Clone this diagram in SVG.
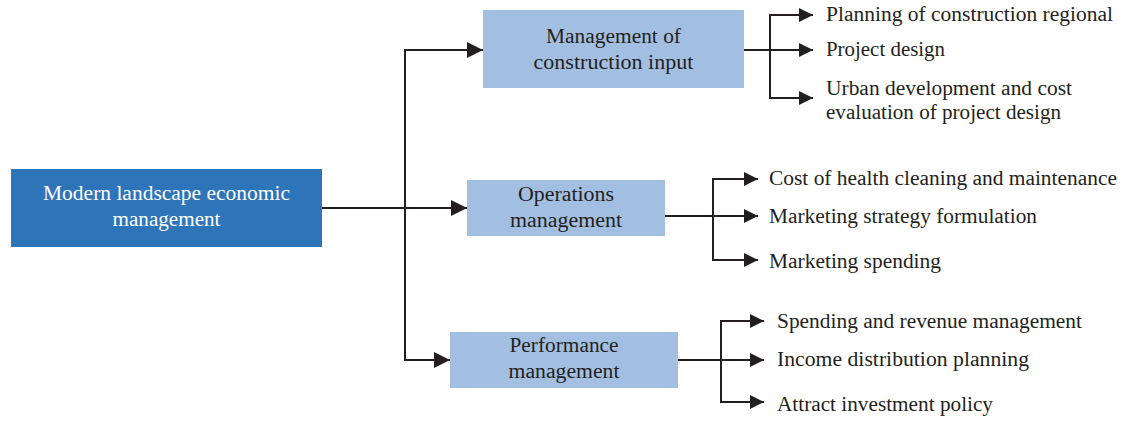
<svg xmlns="http://www.w3.org/2000/svg" width="1124" height="421" viewBox="0 0 1124 421">
  <style>
    text { font-family: "Liberation Serif", "DejaVu Serif", serif; font-size: 20px; fill: #231f20; }
    .root { fill: #2e74b8; }
    .sub { fill: #a2bfe2; }
    .light { fill: #ffffff; }
    .mid { text-anchor: middle; }
    .wire { fill: none; stroke: #231f20; stroke-width: 2; }
  </style>
  <defs>
    <marker id="headL" markerUnits="userSpaceOnUse" markerWidth="17" markerHeight="16" refX="16" refY="8" orient="auto">
      <path d="M0,0 L16,8 L0,16 z" fill="#231f20"/>
    </marker>
    <marker id="headS" markerUnits="userSpaceOnUse" markerWidth="15" markerHeight="14" refX="14" refY="7" orient="auto">
      <path d="M0,0 L14,7 L0,14 z" fill="#231f20"/>
    </marker>
  </defs>

  <!-- connectors -->
  <g id="connectors">
    <path class="wire" d="M322,208 H467" marker-end="url(#headL)"/>
    <path class="wire" d="M405,208 V50 H483" marker-end="url(#headL)"/>
    <path class="wire" d="M405,207 V360 H450" marker-end="url(#headL)"/>

    <path class="wire" d="M744,50 H813" marker-end="url(#headS)"/>
    <path class="wire" d="M770,50 V15 H813" marker-end="url(#headS)"/>
    <path class="wire" d="M770,49 V98 H813" marker-end="url(#headS)"/>

    <path class="wire" d="M665,216 H758" marker-end="url(#headS)"/>
    <path class="wire" d="M713,216 V179 H758" marker-end="url(#headS)"/>
    <path class="wire" d="M713,215 V260 H758" marker-end="url(#headS)"/>

    <path class="wire" d="M678,360 H764" marker-end="url(#headS)"/>
    <path class="wire" d="M721,360 V321 H764" marker-end="url(#headS)"/>
    <path class="wire" d="M721,359 V402 H764" marker-end="url(#headS)"/>
  </g>

  <!-- root node -->
  <g id="node-root">
    <rect class="root" x="11" y="169" width="311" height="78"/>
    <text class="light mid" x="166.5" y="200" textLength="247" lengthAdjust="spacingAndGlyphs">Modern landscape economic</text>
    <text class="light mid" x="166.5" y="226" textLength="108" lengthAdjust="spacingAndGlyphs">management</text>
  </g>

  <!-- second level -->
  <g id="node-construction">
    <rect class="sub" x="483" y="10" width="261" height="78"/>
    <text class="mid" x="613.5" y="43" textLength="135" lengthAdjust="spacingAndGlyphs">Management of</text>
    <text class="mid" x="613.5" y="69" textLength="160" lengthAdjust="spacingAndGlyphs">construction input</text>
  </g>
  <g id="node-operations">
    <rect class="sub" x="467" y="180" width="198" height="56"/>
    <text class="mid" x="566" y="201" textLength="96" lengthAdjust="spacingAndGlyphs">Operations</text>
    <text class="mid" x="566" y="227" textLength="112" lengthAdjust="spacingAndGlyphs">management</text>
  </g>
  <g id="node-performance">
    <rect class="sub" x="450" y="332" width="228" height="56"/>
    <text class="mid" x="564" y="352" textLength="109" lengthAdjust="spacingAndGlyphs">Performance</text>
    <text class="mid" x="564" y="378" textLength="111" lengthAdjust="spacingAndGlyphs">management</text>
  </g>

  <!-- leaves: construction input -->
  <g id="leaf-planning">
    <text x="826" y="21" textLength="287" lengthAdjust="spacingAndGlyphs">Planning of construction regional</text>
  </g>
  <g id="leaf-project-design">
    <text x="826" y="56" textLength="119" lengthAdjust="spacingAndGlyphs">Project design</text>
  </g>
  <g id="leaf-urban">
    <text x="826" y="95" textLength="246" lengthAdjust="spacingAndGlyphs">Urban development and cost</text>
    <text x="826" y="119" textLength="235" lengthAdjust="spacingAndGlyphs">evaluation of project design</text>
  </g>

  <!-- leaves: operations -->
  <g id="leaf-cleaning">
    <text x="769" y="185" textLength="348" lengthAdjust="spacingAndGlyphs">Cost of health cleaning and maintenance</text>
  </g>
  <g id="leaf-strategy">
    <text x="769" y="223" textLength="268" lengthAdjust="spacingAndGlyphs">Marketing strategy formulation</text>
  </g>
  <g id="leaf-spending">
    <text x="769" y="268" textLength="172" lengthAdjust="spacingAndGlyphs">Marketing spending</text>
  </g>

  <!-- leaves: performance -->
  <g id="leaf-revenue">
    <text x="777" y="328" textLength="305" lengthAdjust="spacingAndGlyphs">Spending and revenue management</text>
  </g>
  <g id="leaf-income">
    <text x="777" y="366" textLength="252" lengthAdjust="spacingAndGlyphs">Income distribution planning</text>
  </g>
  <g id="leaf-investment">
    <text x="777" y="411" textLength="216" lengthAdjust="spacingAndGlyphs">Attract investment policy</text>
  </g>
</svg>
